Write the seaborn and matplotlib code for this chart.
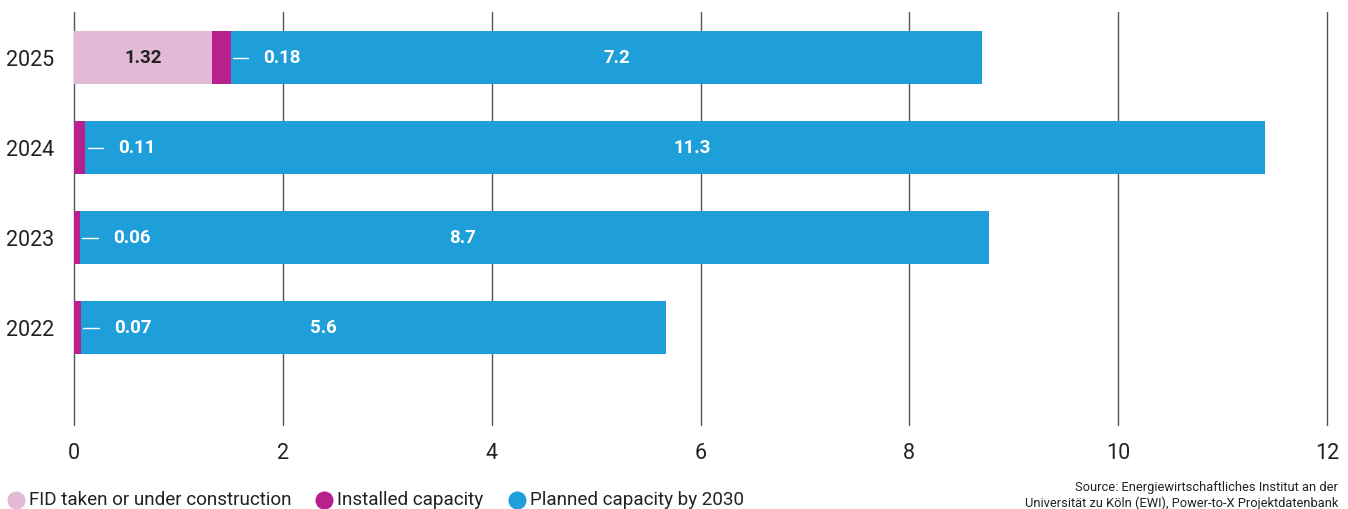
import matplotlib
matplotlib.use("Agg")
import matplotlib.pyplot as plt
from matplotlib.lines import Line2D
import seaborn as sns
import pandas as pd

years = ["2025", "2024", "2023", "2022"]
fid = [1.32, 0.0, 0.0, 0.0]
installed = [0.18, 0.11, 0.06, 0.07]
planned = [7.2, 11.3, 8.7, 5.6]
x_ticks = [0, 2, 4, 6, 8, 10, 12]
legend_labels = ["FID taken or under construction", "Installed capacity", "Planned capacity by 2030"]
source_lines = ["Source: Energiewirtschaftliches Institut an der",
                "Universität zu Köln (EWI), Power-to-X Projektdatenbank"]

C_FID = "#E3BAD6"
C_INST = "#B8208C"
C_PLAN = "#1E9FD9"
TXT = "#222222"

sns.set_theme(style="white")
plt.rcParams["font.family"] = ["Roboto", "DejaVu Sans"]

df = pd.DataFrame({"year": years, "fid": fid, "installed": installed, "planned": planned})
df["c1"] = df["fid"]
df["c2"] = df["c1"] + df["installed"]
df["c3"] = df["c2"] + df["planned"]

fig = plt.figure(figsize=(13.48, 5.09), dpi=100)
ax = fig.add_axes([74 / 1348, 1 - 425 / 509, (1327 - 74) / 1348, (425 - 12) / 509])

bw = 0.59
sns.barplot(data=df, y="year", x="c3", order=years, color=C_PLAN, width=bw,
            saturation=1, ax=ax, zorder=2, linewidth=0)
sns.barplot(data=df, y="year", x="c2", order=years, color=C_INST, width=bw,
            saturation=1, ax=ax, zorder=3, linewidth=0)
sns.barplot(data=df, y="year", x="c1", order=years, color=C_FID, width=bw,
            saturation=1, ax=ax, zorder=4, linewidth=0)

ax.set_xlim(0, 12)
ax.set_ylim(4.08, -0.51)
ax.set_xticks(x_ticks)
ax.set_xticklabels([str(t) for t in x_ticks])
ax.set_xlabel("")
ax.set_ylabel("")
for s in ax.spines.values():
    s.set_visible(False)
for t in x_ticks:
    ax.axvline(t, color="#555555", lw=1.0, zorder=1, clip_on=False)
ax.tick_params(axis="x", length=0, pad=13, labelsize=15.5, labelcolor=TXT)
ax.tick_params(axis="y", length=0, pad=14, labelsize=15.5, labelcolor=TXT)

# planned-label x positions (layout)
plan_label_x = [5.2, 5.92, 3.72, 2.39]
for i in range(len(years)):
    if fid[i] > 0:
        ax.text(fid[i] / 2, i, f"{fid[i]:.2f}", ha="center", va="center",
                fontsize=13.5, fontweight="bold", color=TXT, zorder=6)
    c2 = df["c2"][i]
    ax.plot([c2 + 0.02, c2 + 0.17], [i, i], color="white", lw=1, zorder=6)
    ax.text(c2 + 0.31, i, f"{installed[i]:.2f}", ha="left", va="center",
            fontsize=13.5, fontweight="bold", color="white", zorder=6)
    ax.text(plan_label_x[i], i, f"{planned[i]:g}", ha="center", va="center",
            fontsize=13.5, fontweight="bold", color="white", zorder=6)

# legend
cols = [C_FID, C_INST, C_PLAN]
mx = [16, 324, 517]
ly = 1 - 500 / 509
for x, c, lab in zip(mx, cols, legend_labels):
    fig.add_artist(Line2D([x / 1348], [ly], marker="o", markersize=12, color=c,
                          linestyle="none", transform=fig.transFigure))
    fig.text((x + 13) / 1348, ly, lab, ha="left", va="center", fontsize=13.6, color=TXT)

fig.text(1338 / 1348, 1 - 487 / 509, source_lines[0], ha="right", va="center", fontsize=9.3, color=TXT)
fig.text(1338 / 1348, 1 - 503 / 509, source_lines[1], ha="right", va="center", fontsize=9.3, color=TXT)

fig.savefig("out.png", dpi=100)
